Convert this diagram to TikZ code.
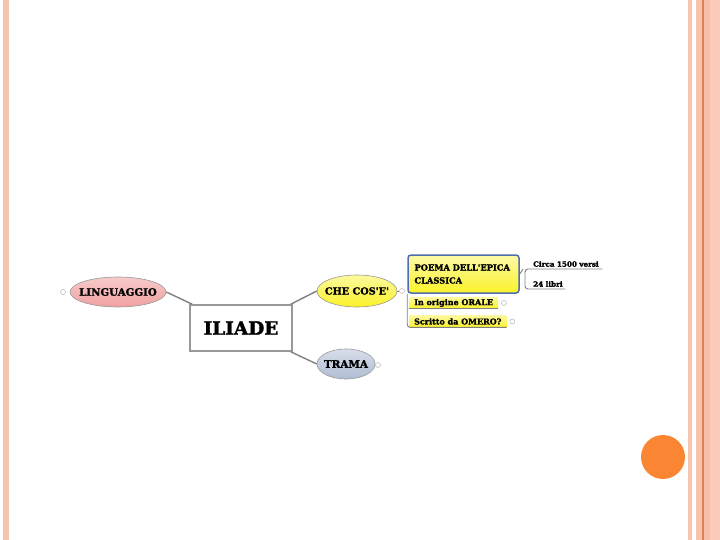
\documentclass[tikz,border=0pt]{standalone}
\usepackage{fontspec}
\setmainfont{DejaVu Serif}[Ligatures=TeXOff, BoldFeatures={FakeBold=1.8}]
\usetikzlibrary{shapes.geometric}
\definecolor{stripe}{RGB}{247,196,176}
\definecolor{stripeb}{RGB}{249,190,168}
\definecolor{stripec}{RGB}{252,202,186}
\definecolor{orangeline}{RGB}{224,128,80}
\definecolor{dot}{RGB}{250,134,52}
\definecolor{pinkfill}{RGB}{240,160,160}
\definecolor{yellowfill}{RGB}{250,242,40}
\definecolor{bluefill}{RGB}{176,188,212}
\definecolor{bluebrd}{RGB}{80,110,170}
\definecolor{linegray}{RGB}{128,128,128}
\tikzset{
  topic/.style={ellipse, draw=linegray!80, line width=0.6pt, inner sep=-10pt},
  branch/.style={draw=linegray, line width=1.4pt},
  thinbranch/.style={draw=linegray, line width=0.9pt},
  childbox/.style={rectangle, inner xsep=5pt, inner ysep=0pt, minimum height=11.5pt, font=\bfseries\fontsize{8}{9}\selectfont, top color=yellowfill!45, bottom color=yellowfill},
  leaf/.style={inner xsep=0pt, inner ysep=2pt, align=left, font=\bfseries\fontsize{7.2}{8}\selectfont},
  expander/.style={circle, draw=linegray!70, fill=white, line width=0.4pt, minimum size=5pt, inner sep=0pt}
}
\begin{document}
\begin{tikzpicture}[x=1pt,y=-1pt]
\useasboundingbox (0,0) rectangle (720,540);
\fill[white] (0,0) rectangle (720,540);
% page decoration
\fill[stripe] (3,0) rectangle (9,540);
\fill[stripe] (688,0) rectangle (692,540);
\fill[stripe] (696,0) rectangle (702,540);
\fill[orangeline] (702,0) rectangle (703.5,540);
\fill[stripeb] (703.5,0) rectangle (710,540);
\fill[stripec] (710,0) rectangle (720,540);
\fill[dot] (663,457) circle (22);
% central topic
\node[draw=linegray!80, line width=1.5pt, fill=white, minimum width=102pt, minimum height=46pt, font=\bfseries\fontsize{18.5}{20}\selectfont] (iliade) at (241,328) {ILIADE};
% main topics
\node[topic, top color=pinkfill!55, bottom color=pinkfill, minimum width=96pt, minimum height=30pt, font=\bfseries\fontsize{10.2}{12}\selectfont] (ling) at (118,292) {LINGUAGGIO};
\node[topic, top color=yellowfill!45, bottom color=yellowfill, minimum width=80pt, minimum height=32pt, font=\bfseries\fontsize{9.7}{12}\selectfont] (che) at (357,291) {CHE COS'E'};
\node[topic, top color=bluefill!50, bottom color=bluefill, minimum width=58pt, minimum height=30pt, font=\bfseries\fontsize{10.4}{12}\selectfont] (trama) at (346,364) {TRAMA};
\draw[branch] (ling.east) -- ([xshift=3pt]iliade.north west);
\draw[branch] ([xshift=-2pt]iliade.north east) -- (che.west);
\draw[branch] ([xshift=-2pt]iliade.south east) -- (trama.west);
\node[expander] (e1) at (63,292) {};
\node[expander] (e4) at (378,365) {};
% subtopics of CHE COS'E'
\node[rectangle, draw=bluebrd, line width=1.5pt, rounded corners=3pt, top color=yellowfill!40, bottom color=yellowfill, minimum width=111pt, minimum height=38pt, text width=98pt, inner xsep=6pt, align=left, font=\bfseries\fontsize{8.3}{13}\selectfont] (poema) at (463.5,274) {POEMA DELL'EPICA\\CLASSICA};
\node[childbox, anchor=north west] (orale) at (409,297) {In origine ORALE};
\node[childbox, anchor=north west] (scritto) at (409,315.5) {Scritto da OMERO?};
\node[expander] (e2) at (402,291) {};
\draw[thinbranch] (che.east) -- (e2);
\draw[thinbranch, rounded corners=3pt] (poema.south west) |- (scritto.south east);
\draw[thinbranch] (orale.south west) -- (orale.south east);
\node[expander, anchor=west] (e5) at ([xshift=3pt]orale.east) {};
\node[expander, anchor=west] (e6) at ([xshift=3pt]scritto.east) {};
% leaves of POEMA
\node[leaf, anchor=south west, text width=79pt] (circa) at (523,269) {\hspace*{10pt}Circa 1500 versi};
\node[leaf, anchor=south west, text width=42pt] (libri) at (523,289) {\hspace*{10pt}24 libri};
\draw[thinbranch] (poema.east) -- (circa.south west);
\draw[thinbranch, rounded corners=3pt] (circa.south east) -- ([xshift=2pt]circa.south west) |- (libri.south east);
\end{tikzpicture}
\end{document}
